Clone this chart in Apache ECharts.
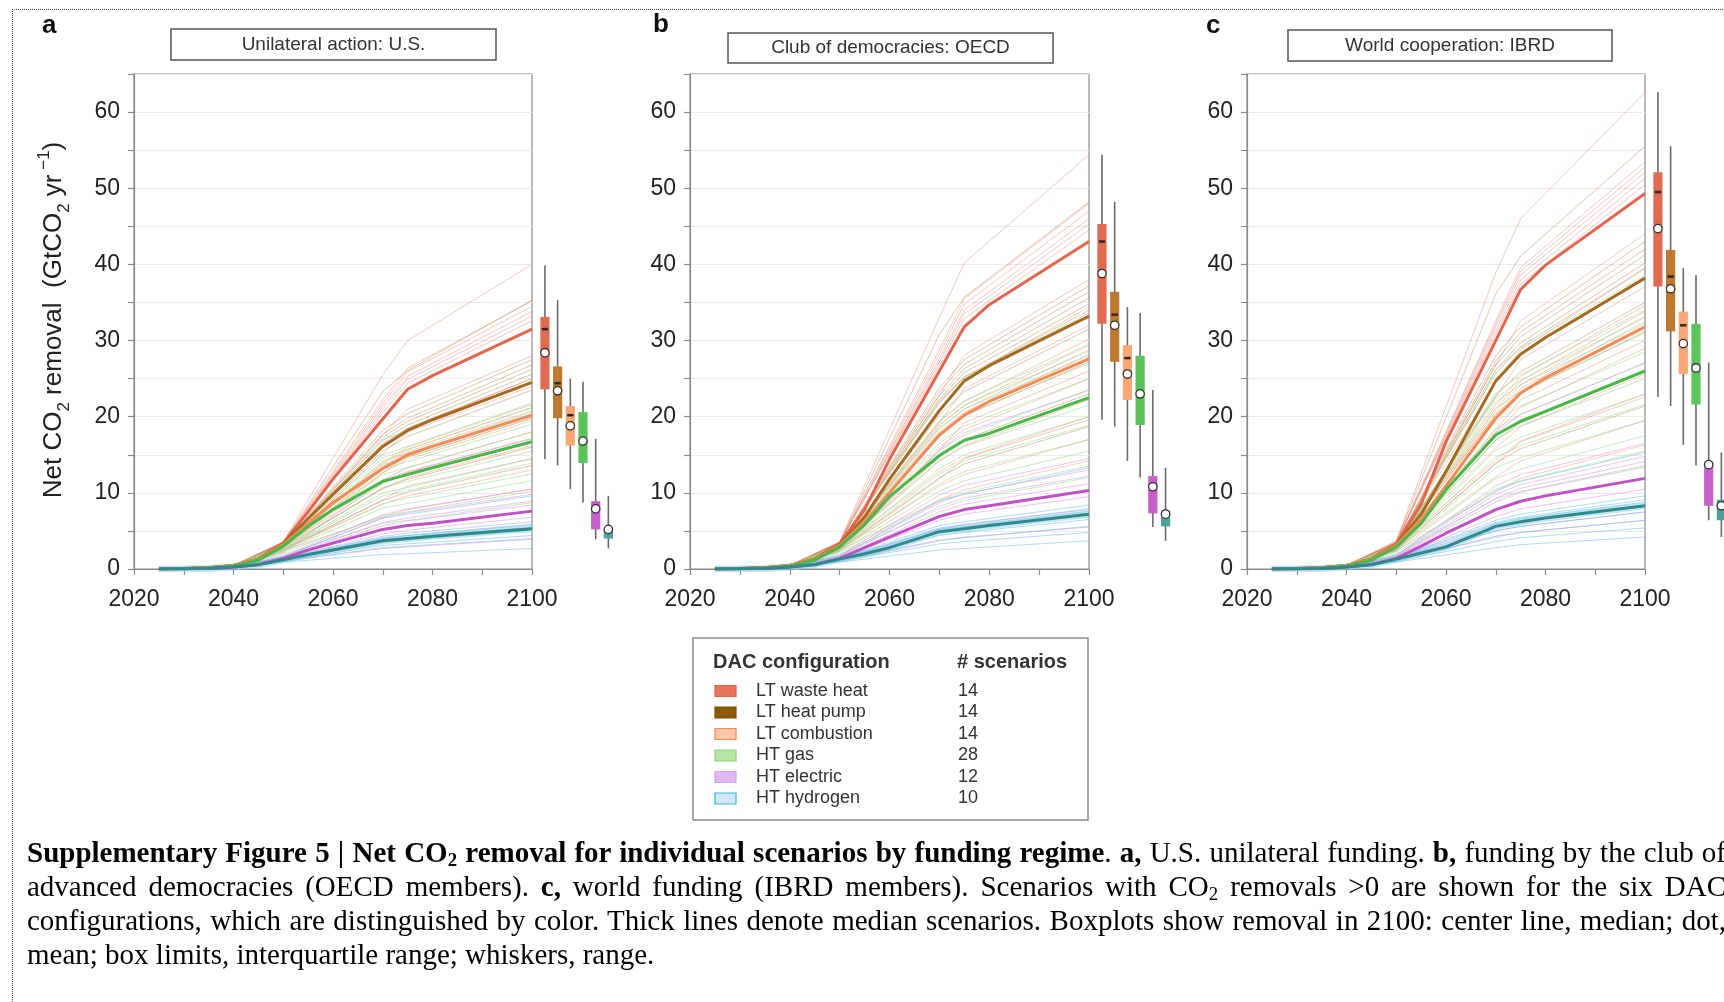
<!DOCTYPE html>
<html><head><meta charset="utf-8">
<script src="https://cdn.jsdelivr.net/npm/echarts@6/dist/echarts.min.js"></script>
<style>
html,body{margin:0;padding:0;background:#fff;overflow:hidden;}
#wrap{position:relative;width:1724px;height:1002px;overflow:hidden;background:#fff;}
#chart{position:absolute;left:0;top:0;width:1724px;height:1002px;}
#frame{position:absolute;left:12px;top:9px;width:1800px;height:1100px;border-top:1.5px dotted #444;border-left:1.5px dotted #444;pointer-events:none;}
#caption{position:absolute;left:27px;top:835px;width:1699px;font-family:'Liberation Serif','Times New Roman',serif;font-size:29px;line-height:34px;text-align:justify;color:#000;}
#caption sub{font-size:0.65em;line-height:0;vertical-align:-0.2em;}
</style></head>
<body><div id="wrap"><div id="chart"></div><div id="frame"></div>
<div id="caption"><b>Supplementary Figure 5 | Net CO<sub>2</sub> removal for individual scenarios by funding regime</b>. <b>a,</b> U.S. unilateral funding. <b>b,</b> funding by the club of advanced democracies (OECD members). <b>c,</b> world funding (IBRD members). Scenarios with CO<sub>2</sub> removals &gt;0 are shown for the six DAC configurations, which are distinguished by color. Thick lines denote median scenarios. Boxplots show removal in 2100: center line, median; dot, mean; box limits, interquartile range; whiskers, range.</div>
</div>
<script>
// ---------------- DATA ----------------
const CONFIGS = ['LT waste heat','LT heat pump','LT combustion','HT gas','HT electric','HT hydrogen'];
const SCENARIO_COUNTS = [14,14,14,28,12,10];
const PANEL_LETTERS = ['a','b','c'];
const PANEL_TITLES = ['Unilateral action: U.S.','Club of democracies: OECD','World cooperation: IBRD'];
const X_MIN = 2020, X_MAX = 2100, Y_MIN = 0, Y_MAX = 65;

const MED_YEARS = [2025,2030,2035,2040,2045,2050,2055,2060,2070,2075,2080,2100];
const THIN_YEARS = [2025,2040,2050,2070,2075,2100];

// median scenarios (thick lines), order = CONFIGS
const MED_A = [
 [0,0.05,0.15,0.45,1.3,3.4,7.5,11.8,19.7,23.6,25.4,31.5],
 [0,0.05,0.15,0.45,1.3,3.3,6.6,9.8,16.1,18.2,19.6,24.5],
 [0,0.05,0.15,0.45,1.25,3.2,6.0,8.7,13.2,15.0,16.1,20.2],
 [0,0.04,0.12,0.4,1.15,3.0,5.6,7.8,11.5,12.4,13.3,16.7],
 [0,0.02,0.08,0.25,0.6,1.4,2.5,3.4,5.2,5.7,6.0,7.6],
 [0,0.02,0.08,0.25,0.55,1.2,1.9,2.5,3.7,4.0,4.3,5.3]
];
const MED_B = [
 [0,0.05,0.15,0.45,1.3,3.3,7.8,14.4,26.0,31.8,34.7,43.0],
 [0,0.05,0.15,0.45,1.3,3.2,6.8,11.8,20.8,24.7,26.7,33.2],
 [0,0.05,0.15,0.45,1.25,3.1,6.2,10.0,17.6,20.2,22.0,27.6],
 [0,0.04,0.12,0.4,1.15,2.9,5.8,9.5,14.9,16.9,17.8,22.5],
 [0,0.02,0.08,0.25,0.6,1.4,2.8,4.2,6.9,7.8,8.3,10.3],
 [0,0.02,0.08,0.25,0.55,1.3,2.0,2.8,4.9,5.3,5.7,7.2]
];
const MED_C = [
 [0,0.05,0.15,0.45,1.3,3.3,8.5,16.7,30.0,36.7,39.9,49.3],
 [0,0.05,0.15,0.45,1.3,3.2,7.2,12.8,24.7,28.2,30.4,38.2],
 [0,0.05,0.15,0.45,1.25,3.1,6.5,10.9,19.8,23.1,25.1,31.8],
 [0,0.04,0.12,0.4,1.15,2.9,6.0,10.4,17.6,19.4,20.7,26.0],
 [0,0.02,0.08,0.25,0.6,1.4,3.0,4.7,7.8,8.9,9.6,11.9],
 [0,0.02,0.08,0.25,0.55,1.3,2.1,2.9,5.6,6.2,6.7,8.3]
];

// individual scenarios (thin lines) at THIN_YEARS
const THIN_A = [
 [[0,.45,3.6,25.5,30.0,40.0],[0,.45,3.5,22.2,26.4,35.2],[0,.45,3.5,21.7,25.9,34.5],[0,.45,3.4,21.3,25.3,33.8],[0,.45,3.4,20.9,24.9,33.2],[0,.45,3.4,20.5,24.4,32.6],[0,.4,3.2,17.6,21.0,28.0],[0,.4,3.0,15.1,18.0,24.0],[0,.4,2.8,12.6,15.0,20.0],[0,.35,2.4,9.1,10.9,14.5]],
 [[0,.45,3.5,23.3,26.1,35.3],[0,.45,3.3,18.2,20.4,27.5],[0,.45,3.3,17.7,19.8,26.8],[0,.45,3.3,17.3,19.4,26.2],[0,.45,3.2,16.9,18.9,25.6],[0,.45,3.2,16.5,18.5,25.0],[0,.4,3.1,15.5,17.4,23.5],[0,.4,3.0,13.1,14.7,19.8],[0,.4,2.8,10.6,11.8,16.0],[0,.35,2.6,9.0,10.1,13.6]],
 [[0,.45,3.3,16.3,18.5,25.0],[0,.45,3.2,14.0,16.0,21.6],[0,.45,3.2,13.8,15.7,21.2],[0,.45,3.2,13.5,15.4,20.8],[0,.4,3.1,12.7,14.4,19.5],[0,.4,3.0,11.7,13.3,18.0],[0,.4,3.0,11.2,12.7,17.2],[0,.4,2.9,10.5,12.0,16.2],[0,.35,2.6,8.5,9.6,13.0],[0,.35,2.4,6.8,7.8,10.5]],
 [[0,.4,3.2,17.0,18.2,24.6],[0,.4,3.1,15.0,16.1,21.8],[0,.4,3.0,14.6,15.7,21.2],[0,.4,3.0,14.2,15.2,20.6],[0,.4,3.0,13.7,14.7,19.8],[0,.4,2.9,13.1,14.1,19.0],[0,.4,2.9,12.4,13.3,18.0],[0,.35,2.7,10.7,11.5,15.5],[0,.35,2.6,10.0,10.7,14.5],[0,.35,2.6,9.6,10.3,13.9],[0,.3,2.4,8.6,9.3,12.5],[0,.3,2.3,8.0,8.6,11.6],[0,.3,2.1,7.0,7.5,10.2],[0,.3,1.9,6.0,6.4,8.7]],
 [[0,.3,2.2,11.6,12.8,17.1],[0,.25,1.7,7.1,7.9,10.5],[0,.25,1.6,6.7,7.4,9.8],[0,.25,1.5,6.1,6.7,8.9],[0,.25,1.5,5.7,6.3,8.4],[0,.2,1.3,4.6,5.1,6.8],[0,.2,1.2,4.0,4.4,5.9],[0,.2,1.1,3.5,3.9,5.2],[0,.2,1.0,2.7,2.9,3.9]],
 [[0,.25,1.6,6.7,7.2,9.6],[0,.2,1.3,4.3,4.7,6.2],[0,.2,1.3,4.1,4.4,5.8],[0,.2,1.2,3.9,4.1,5.5],[0,.2,1.2,3.6,3.8,5.1],[0,.2,1.1,3.1,3.3,4.4],[0,.2,1.0,2.8,3.0,4.0],[0,.15,0.9,1.9,2.0,2.7]]
];
const THIN_B = [
 [[0,.45,3.6,33.0,40.2,54.4],[0,.45,3.5,28.8,35.5,48.0],[0,.45,3.5,28.2,34.8,47.0],[0,.45,3.4,27.6,34.0,46.0],[0,.45,3.4,27.2,33.5,45.3],[0,.45,3.4,26.7,32.9,44.5],[0,.4,3.2,22.8,28.1,38.0],[0,.4,3.0,19.2,23.7,32.0],[0,.4,2.8,15.6,19.2,26.0],[0,.35,2.5,11.8,14.5,19.6]],
 [[0,.45,3.5,30.8,35.7,48.2],[0,.45,3.3,23.8,27.5,37.2],[0,.45,3.3,23.3,26.9,36.4],[0,.45,3.3,22.8,26.3,35.6],[0,.45,3.2,22.3,25.8,34.8],[0,.45,3.2,21.8,25.2,34.0],[0,.4,3.1,20.2,23.3,31.5],[0,.4,3.0,17.4,20.1,27.2],[0,.4,2.8,14.7,17.0,23.0],[0,.35,2.6,12.0,13.8,18.7]],
 [[0,.45,3.3,22.0,25.1,34.4],[0,.45,3.2,19.3,22.0,30.2],[0,.45,3.2,18.8,21.5,29.4],[0,.45,3.2,18.4,21.0,28.8],[0,.4,3.1,18.0,20.6,28.2],[0,.4,3.0,16.0,18.3,25.0],[0,.4,3.0,14.2,16.2,22.2],[0,.4,2.9,12.8,14.6,20.0],[0,.35,2.6,10.9,12.4,17.0],[0,.35,2.4,9.1,10.4,14.2]],
 [[0,.4,3.2,22.2,25.2,33.6],[0,.4,3.1,19.5,22.1,29.5],[0,.4,3.0,18.9,21.5,28.6],[0,.4,3.0,18.5,21.0,28.0],[0,.4,3.0,17.8,20.3,27.0],[0,.4,2.9,16.5,18.8,25.0],[0,.4,2.9,15.5,17.6,23.5],[0,.35,2.7,14.2,16.1,21.5],[0,.35,2.6,13.2,15.0,20.0],[0,.35,2.6,12.5,14.2,18.9],[0,.3,2.4,11.2,12.8,17.0],[0,.3,2.3,10.2,11.6,15.5],[0,.3,2.1,8.9,10.1,13.5],[0,.3,1.9,7.9,9.0,12.0]],
 [[0,.3,2.3,15.7,17.9,23.5],[0,.25,1.8,9.7,11.0,14.5],[0,.25,1.7,8.7,9.9,13.0],[0,.25,1.6,8.2,9.3,12.2],[0,.25,1.5,7.5,8.5,11.2],[0,.2,1.4,6.4,7.2,9.5],[0,.2,1.3,5.2,5.9,7.8],[0,.2,1.2,4.9,5.5,7.3],[0,.2,1.0,3.7,4.2,5.5]],
 [[0,.25,1.7,9.0,9.8,13.3],[0,.2,1.4,5.7,6.2,8.4],[0,.2,1.3,5.4,5.8,7.9],[0,.2,1.3,5.2,5.6,7.6],[0,.2,1.2,4.4,4.8,6.5],[0,.2,1.1,3.8,4.1,5.6],[0,.2,1.0,3.3,3.6,4.8],[0,.15,0.9,2.5,2.7,3.7]]
];
const THIN_C = [
 [[0,.45,3.7,38.9,46.0,62.6],[0,.45,3.5,32.6,39.6,53.5],[0,.45,3.5,32.2,39.1,52.8],[0,.45,3.4,31.8,38.6,52.1],[0,.45,3.4,31.3,38.0,51.3],[0,.45,3.4,30.8,37.4,50.5],[0,.4,3.2,26.8,32.6,44.0],[0,.4,3.0,22.6,27.5,37.1],[0,.4,2.8,18.3,22.2,30.0],[0,.35,2.5,13.8,16.7,22.6]],
 [[0,.45,3.6,36.1,41.1,55.5],[0,.45,3.3,28.0,31.8,43.0],[0,.45,3.3,27.3,31.1,42.0],[0,.45,3.3,26.8,30.5,41.2],[0,.45,3.2,26.1,29.7,40.2],[0,.45,3.2,25.7,29.2,39.5],[0,.4,3.1,22.8,25.9,35.0],[0,.4,3.0,20.3,23.1,31.2],[0,.4,2.8,16.9,19.2,26.0],[0,.35,2.6,13.9,15.8,21.4]],
 [[0,.45,3.3,24.5,28.8,39.5],[0,.45,3.2,21.5,25.3,34.6],[0,.45,3.2,21.0,24.7,33.8],[0,.45,3.2,20.6,24.2,33.2],[0,.4,3.1,20.2,23.7,32.5],[0,.4,3.0,18.0,21.2,29.0],[0,.4,3.0,15.9,18.7,25.6],[0,.4,2.9,14.3,16.8,23.0],[0,.35,2.6,12.1,14.2,19.5],[0,.35,2.4,10.1,11.9,16.3]],
 [[0,.4,3.2,26.2,29.0,38.6],[0,.4,3.1,23.1,25.5,34.0],[0,.4,3.0,22.4,24.8,33.0],[0,.4,3.0,21.9,24.2,32.2],[0,.4,3.0,21.1,23.3,31.0],[0,.4,2.9,19.4,21.4,28.5],[0,.4,2.9,18.4,20.3,27.0],[0,.35,2.7,17.0,18.8,25.0],[0,.35,2.6,15.6,17.3,23.0],[0,.35,2.6,14.7,16.2,21.6],[0,.3,2.4,13.3,14.6,19.5],[0,.3,2.3,11.9,13.1,17.5],[0,.3,2.1,10.5,11.6,15.5],[0,.3,1.9,9.2,10.2,13.6]],
 [[0,.3,2.4,17.9,20.3,27.1],[0,.25,1.8,10.9,12.4,16.5],[0,.25,1.7,9.8,11.1,14.8],[0,.25,1.6,9.3,10.6,14.1],[0,.25,1.6,8.8,10.1,13.4],[0,.2,1.4,6.9,7.9,10.5],[0,.2,1.3,5.5,6.2,8.3],[0,.2,1.2,5.0,5.6,7.5],[0,.2,1.1,4.2,4.8,6.4]],
 [[0,.25,1.8,10.3,11.5,15.3],[0,.2,1.4,6.4,7.2,9.6],[0,.2,1.4,6.1,6.8,9.1],[0,.2,1.3,5.9,6.6,8.8],[0,.2,1.2,5.0,5.6,7.5],[0,.2,1.1,4.3,4.8,6.4],[0,.2,1.0,3.6,4.1,5.4],[0,.15,0.9,2.8,3.2,4.2]]
];

// boxplots of removal in 2100: [min, q1, median, q3, max, mean]
const BOX_A = [[14.4,23.6,31.5,33.1,39.9,28.4],[13.6,19.8,24.4,26.6,35.3,23.4],[10.5,16.2,20.2,21.4,25.0,18.8],[8.7,13.9,16.6,20.6,24.6,16.8],[3.9,5.2,7.7,8.9,17.1,7.9],[2.7,4.0,4.9,5.1,9.6,5.2]];
const BOX_B = [[19.6,32.2,43.0,45.3,54.4,38.8],[18.7,27.2,33.4,36.4,48.2,32.0],[14.2,22.2,27.7,29.4,34.4,25.6],[12.0,18.9,22.6,28.0,33.6,23.0],[5.5,7.3,10.4,12.2,23.5,10.8],[3.7,5.6,7.2,7.7,13.3,7.2]];
const BOX_C = [[22.6,37.1,49.5,52.1,62.6,44.7],[21.4,31.2,38.4,41.9,55.5,36.8],[16.3,25.6,32.0,33.8,39.5,29.6],[13.6,21.6,26.1,32.2,38.6,26.4],[6.4,8.3,13.4,14.1,27.1,13.7],[4.2,6.4,8.5,9.1,15.3,8.3]];

// ---------------- STYLE / LAYOUT ----------------
const THIN_COLORS = ['rgba(232,125,105,0.42)','rgba(185,130,70,0.45)','rgba(246,155,110,0.5)','rgba(135,218,135,0.5)','rgba(226,135,226,0.5)','rgba(110,192,235,0.55)'];
const MED_COLORS = ['#E4654D','#A66A22','#F38A57','#48B848','#C051C5','#2F8A8A'];
const BOX_COLORS = ['#E06B53','#BB7A30','#F9A774','#5CC35C','#C75FCB','#4DA39B'];
const LEG_FILL = ['#E8735A','#8B5A0A','#FCC7A8','#B8E4A8','#DEB8F2','#D3E8F2'];
const LEG_STROKE = ['#E0604A','#7A4F05','#F3874E','#8ED27A','#CFA3EA','#34B5D8'];
const GRIDS = [{left:134,width:398},{left:690,width:399},{left:1247,width:398}];
const GRID_TOP = 74, GRID_H = 495;
const TITLE_BOX = [{x:171,y:29,w:325,h:31},{x:728,y:33,w:325,h:30},{x:1288,y:30,w:324,h:31}];
const LETTER_POS = [{x:42,y:39},{x:653,y:38},{x:1206,y:39}];
const FONT = '"Liberation Sans", Arial, sans-serif';

const PANELS = [
  {thin:THIN_A, med:MED_A, box:BOX_A},
  {thin:THIN_B, med:MED_B, box:BOX_B},
  {thin:THIN_C, med:MED_C, box:BOX_C}
];

const grid = [], xAxis = [], yAxis = [], series = [];
GRIDS.forEach((g, p) => {
  grid.push({left:g.left, top:GRID_TOP, width:g.width, height:GRID_H, show:true, borderColor:'#8a8a8a', borderWidth:1.2, backgroundColor:'transparent', containLabel:false, outerBoundsMode:'none'});
  xAxis.push({type:'value', gridIndex:p, min:X_MIN, max:X_MAX, interval:10,
    axisLine:{show:true, lineStyle:{color:'#8a8a8a', width:1.2}},
    axisTick:{show:true, length:6, lineStyle:{color:'#8a8a8a', width:1.2}},
    splitLine:{show:false},
    axisLabel:{show:true, margin:19, color:'#222', fontSize:23, fontFamily:FONT,
      formatter: v => (v % 20 === 0 ? String(v) : '')}});
  yAxis.push({type:'value', gridIndex:p, min:Y_MIN, max:Y_MAX, interval:5,
    axisLine:{show:true, lineStyle:{color:'#8a8a8a', width:1.2}},
    axisTick:{show:true, length:6, lineStyle:{color:'#8a8a8a', width:1.2}},
    splitLine:{show:true, lineStyle:{color:'#ebebeb', width:1}},
    axisLabel:{show:true, margin:14, color:'#222', fontSize:23, fontFamily:FONT,
      formatter: v => (v % 10 === 0 && v <= 60 ? String(v) : '')}});
});

const BOX_OFFSET = 2.6, BOX_STEP = 2.55, BOX_HALF = 4.6;
function boxRender(params, api) {
  const i = api.value(0);
  const xv = X_MAX + BOX_OFFSET + i * BOX_STEP;
  const pMin = api.coord([xv, api.value(1)]);
  const pQ1 = api.coord([xv, api.value(2)]);
  const pMed = api.coord([xv, api.value(3)]);
  const pQ3 = api.coord([xv, api.value(4)]);
  const pMax = api.coord([xv, api.value(5)]);
  const pMean = api.coord([xv, api.value(6)]);
  const cx = pMin[0];
  return {type:'group', children:[
    {type:'line', shape:{x1:cx, y1:pMin[1], x2:cx, y2:pMax[1]}, style:{stroke:'#6a6a6a', lineWidth:1.6}},
    {type:'rect', shape:{x:cx-BOX_HALF, y:pQ3[1], width:BOX_HALF*2, height:pQ1[1]-pQ3[1]}, style:{fill:BOX_COLORS[i]}},
    {type:'line', shape:{x1:cx-3.2, y1:pMed[1], x2:cx+3.2, y2:pMed[1]}, style:{stroke:'#2a2a2a', lineWidth:2.5}},
    {type:'circle', shape:{cx:cx, cy:pMean[1], r:4.2}, style:{fill:'#fff', stroke:'#333', lineWidth:1.3}}
  ]};
}

PANELS.forEach((P, p) => {
  P.thin.forEach((lines, c) => {
    lines.forEach(arr => {
      series.push({type:'line', xAxisIndex:p, yAxisIndex:p, silent:true, symbol:'none', z:2,
        data: THIN_YEARS.map((y, k) => [y, arr[k]]),
        lineStyle:{width:1, color:THIN_COLORS[c]}});
    });
  });
  // light halo under hydrogen median
  series.push({type:'line', xAxisIndex:p, yAxisIndex:p, silent:true, symbol:'none', z:3,
    data: MED_YEARS.map((y, k) => [y, P.med[5][k]]),
    lineStyle:{width:7, color:'rgba(135,205,238,0.5)'}});
  P.med.forEach((arr, c) => {
    series.push({type:'line', xAxisIndex:p, yAxisIndex:p, silent:true, symbol:'none', z:4,
      data: MED_YEARS.map((y, k) => [y, arr[k]]),
      lineStyle:{width:3, color:MED_COLORS[c], join:'round'}});
  });
  series.push({type:'custom', xAxisIndex:p, yAxisIndex:p, silent:true, clip:false, z:5,
    renderItem: boxRender, data: P.box.map((s, i) => [i].concat(s))});
});

// graphics: letters, title boxes, y label, legend
const graphic = [];
PANEL_LETTERS.forEach((L, p) => {
  graphic.push({type:'text', x:LETTER_POS[p].x, y:LETTER_POS[p].y,
    style:{text:L, fill:'#111', fontSize:26, fontWeight:'bold', fontFamily:FONT, align:'left', verticalAlign:'bottom'}});
  const tb = TITLE_BOX[p];
  graphic.push({type:'rect', shape:{x:tb.x, y:tb.y, width:tb.w, height:tb.h},
    style:{fill:'#fff', stroke:'#555', lineWidth:1.5}});
  graphic.push({type:'text', x:tb.x + tb.w/2, y:tb.y + tb.h/2,
    style:{text:PANEL_TITLES[p], fill:'#333', fontSize:19, fontFamily:FONT, align:'center', verticalAlign:'middle'}});
});
graphic.push({type:'text', x:54, y:320, rotation:Math.PI/2,
  style:{text:'{n|Net CO}{s|2}{n| removal  (GtCO}{s|2}{n| yr}{p| −1}{n|)}',
    align:'center', verticalAlign:'middle',
    rich:{
      n:{fontSize:26, fontFamily:FONT, fill:'#222', lineHeight:37, verticalAlign:'middle'},
      s:{fontSize:17, fontFamily:FONT, fill:'#222', lineHeight:22, verticalAlign:'bottom'},
      p:{fontSize:17, fontFamily:FONT, fill:'#222', lineHeight:16, verticalAlign:'top'}
    }}});
// legend table
const LEG = {x:693, y:638, w:395, h:182, colLabel:713, colCount:957, headY:662, row0:691, rowStep:21.5, swX:715, swW:21, swH:11, textX:756};
graphic.push({type:'rect', shape:{x:LEG.x, y:LEG.y, width:LEG.w, height:LEG.h}, style:{fill:'#fff', stroke:'#8a8a8a', lineWidth:1.5}});
graphic.push({type:'text', x:LEG.colLabel, y:LEG.headY, style:{text:'DAC configuration', fill:'#333', fontSize:20, fontWeight:'bold', fontFamily:FONT, verticalAlign:'middle'}});
graphic.push({type:'text', x:LEG.colCount, y:LEG.headY, style:{text:'# scenarios', fill:'#333', fontSize:20, fontWeight:'bold', fontFamily:FONT, verticalAlign:'middle'}});
CONFIGS.forEach((name, r) => {
  const cy = LEG.row0 + r * LEG.rowStep;
  graphic.push({type:'rect', shape:{x:LEG.swX, y:cy - LEG.swH/2, width:LEG.swW, height:LEG.swH},
    style:{fill:LEG_FILL[r], stroke:LEG_STROKE[r], lineWidth:1.2}});
  graphic.push({type:'text', x:LEG.textX, y:cy, style:{text:name, fill:'#333', fontSize:18, fontFamily:FONT, verticalAlign:'middle'}});
  graphic.push({type:'text', x:LEG.colCount + 1, y:cy, style:{text:String(SCENARIO_COUNTS[r]), fill:'#333', fontSize:18, fontFamily:FONT, verticalAlign:'middle'}});
});

const chart = echarts.init(document.getElementById('chart'), null, {renderer:'canvas'});
chart.setOption({
  animation:false,
  backgroundColor:'transparent',
  grid, xAxis, yAxis, series, graphic
});
</script>
</body></html>
